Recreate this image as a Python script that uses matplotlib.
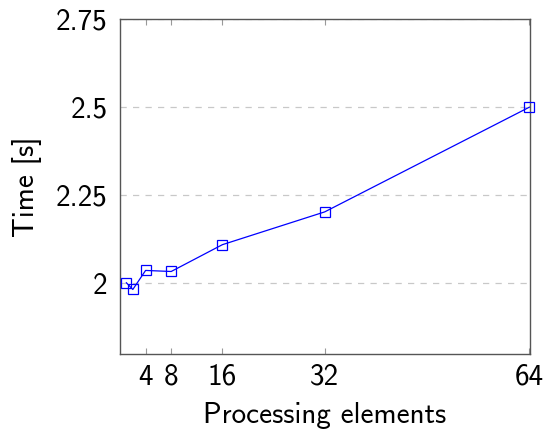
import matplotlib
matplotlib.use("Agg")
import matplotlib.pyplot as plt

# Processing elements vs. run time
elements = [1, 2, 4, 8, 16, 32, 64]
times = [2.002, 1.983, 2.037, 2.034, 2.11, 2.203, 2.50]
xtick_vals = [4, 8, 16, 32, 64]
ytick_vals = [2.0, 2.25, 2.5, 2.75]
ytick_labels = ["2", "2.25", "2.5", "2.75"]

plt.rcParams['font.family'] = ['cmss10', 'DejaVu Sans']
plt.rcParams['font.size'] = 21

fig = plt.figure(figsize=(5.46, 4.29), dpi=100)
ax = fig.add_axes([0.2198, 0.1748, 0.7509, 0.7809])

ax.plot(elements, times, color='#0000ff', lw=0.9, marker='s', ms=7.5,
        mfc='none', mec='#0000ff', mew=0.9, zorder=3, clip_on=False)

ax.set_xlim(0, 64.1)
ax.set_ylim(1.8, 2.75)
ax.set_xticks(xtick_vals)
ax.set_xticklabels([str(v) for v in xtick_vals])
ax.set_yticks(ytick_vals)
ax.set_yticklabels(ytick_labels)

ax.yaxis.grid(True, linestyle=(0, (5, 5)), color='#c8c8c8', lw=0.9)
ax.tick_params(axis='x', direction='in', top=True, length=4, color='#999999', pad=7)
ax.tick_params(axis='y', direction='in', length=0, pad=9)
for s in ax.spines.values():
    s.set_color('#555555')
    s.set_linewidth(1.0)

ax.set_xlabel("Processing elements", labelpad=8)
ax.set_ylabel("Time [s]", labelpad=10)

fig.savefig("out.png", dpi=100)
